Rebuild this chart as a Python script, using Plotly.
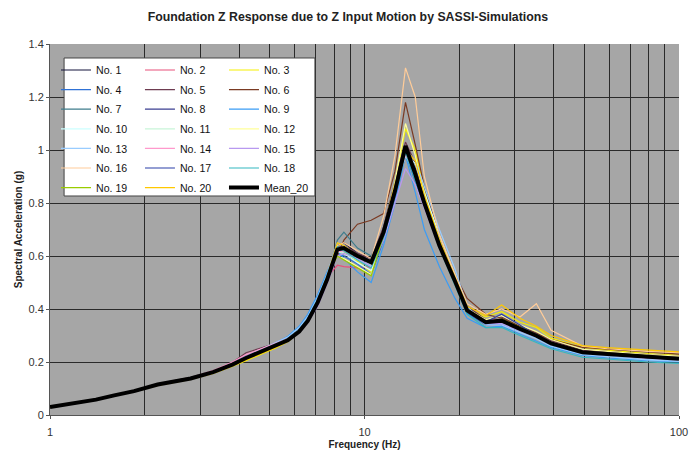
import plotly.graph_objects as go

# Analysis frequencies (Hz)
freq = [1.0, 1.2, 1.4, 1.6, 1.85, 2.2, 2.8, 3.3, 3.8, 4.2, 4.7, 5.2, 5.7, 6.2, 6.6,
        7.1, 7.6, 8.2, 8.6, 9.5, 10.5, 11.5, 12.5, 13.5, 14.5, 15.5, 17.3, 19.4,
        21.2, 24.3, 27.3, 31.2, 35.2, 39.2, 49.3, 59.2, 79.3, 100.0]

# Spectral acceleration (g) of each SASSI simulation
no_1 = [0.030, 0.044, 0.058, 0.073, 0.089, 0.114, 0.137, 0.161, 0.192, 0.218, 0.242, 0.262, 0.285, 0.318, 0.360, 0.430, 0.520, 0.640, 0.650, 0.610, 0.580, 0.700, 0.860, 1.000, 0.930, 0.810, 0.650, 0.500, 0.390, 0.345, 0.360, 0.330, 0.300, 0.270, 0.235, 0.228, 0.216, 0.210]
no_2 = [0.031, 0.045, 0.059, 0.075, 0.091, 0.117, 0.140, 0.166, 0.196, 0.222, 0.246, 0.266, 0.288, 0.320, 0.362, 0.430, 0.520, 0.565, 0.560, 0.555, 0.560, 0.680, 0.850, 1.000, 0.900, 0.790, 0.630, 0.500, 0.400, 0.355, 0.362, 0.330, 0.305, 0.275, 0.242, 0.234, 0.222, 0.215]
no_3 = [0.029, 0.043, 0.057, 0.072, 0.088, 0.112, 0.134, 0.157, 0.183, 0.205, 0.230, 0.252, 0.276, 0.312, 0.355, 0.430, 0.530, 0.640, 0.620, 0.580, 0.540, 0.690, 0.880, 1.080, 1.000, 0.850, 0.660, 0.520, 0.400, 0.370, 0.390, 0.350, 0.330, 0.290, 0.255, 0.245, 0.232, 0.225]
no_4 = [0.030, 0.044, 0.058, 0.074, 0.091, 0.116, 0.140, 0.165, 0.195, 0.222, 0.248, 0.270, 0.295, 0.330, 0.372, 0.445, 0.530, 0.610, 0.600, 0.570, 0.530, 0.660, 0.820, 0.990, 0.880, 0.790, 0.640, 0.500, 0.385, 0.340, 0.345, 0.318, 0.292, 0.262, 0.230, 0.222, 0.210, 0.205]
no_5 = [0.031, 0.045, 0.060, 0.076, 0.092, 0.118, 0.142, 0.167, 0.198, 0.235, 0.252, 0.270, 0.290, 0.322, 0.360, 0.428, 0.515, 0.630, 0.640, 0.610, 0.590, 0.710, 0.880, 1.030, 0.950, 0.820, 0.640, 0.510, 0.410, 0.360, 0.370, 0.335, 0.305, 0.280, 0.245, 0.240, 0.228, 0.222]
no_6 = [0.030, 0.044, 0.058, 0.074, 0.090, 0.115, 0.138, 0.162, 0.190, 0.216, 0.240, 0.262, 0.284, 0.316, 0.355, 0.425, 0.505, 0.600, 0.660, 0.720, 0.735, 0.760, 0.920, 1.180, 1.020, 0.860, 0.680, 0.530, 0.440, 0.380, 0.365, 0.335, 0.310, 0.285, 0.255, 0.248, 0.238, 0.230]
no_7 = [0.030, 0.044, 0.058, 0.074, 0.090, 0.115, 0.139, 0.163, 0.191, 0.214, 0.238, 0.258, 0.280, 0.313, 0.352, 0.420, 0.515, 0.660, 0.690, 0.630, 0.600, 0.690, 0.840, 1.000, 0.900, 0.790, 0.640, 0.500, 0.390, 0.345, 0.350, 0.322, 0.296, 0.268, 0.236, 0.228, 0.216, 0.210]
no_8 = [0.030, 0.043, 0.057, 0.073, 0.089, 0.114, 0.137, 0.161, 0.189, 0.214, 0.239, 0.260, 0.283, 0.318, 0.360, 0.432, 0.520, 0.635, 0.630, 0.600, 0.570, 0.680, 0.850, 0.990, 0.920, 0.810, 0.650, 0.510, 0.400, 0.350, 0.340, 0.330, 0.305, 0.272, 0.238, 0.230, 0.218, 0.212]
no_9 = [0.029, 0.043, 0.057, 0.073, 0.089, 0.115, 0.139, 0.164, 0.194, 0.220, 0.246, 0.270, 0.296, 0.335, 0.380, 0.455, 0.540, 0.620, 0.590, 0.540, 0.500, 0.640, 0.800, 0.980, 0.840, 0.700, 0.560, 0.440, 0.365, 0.330, 0.335, 0.305, 0.280, 0.255, 0.225, 0.215, 0.205, 0.200]
no_10 = [0.030, 0.044, 0.058, 0.074, 0.090, 0.116, 0.139, 0.163, 0.191, 0.216, 0.241, 0.262, 0.285, 0.320, 0.362, 0.435, 0.520, 0.630, 0.610, 0.575, 0.545, 0.680, 0.860, 0.980, 0.950, 0.840, 0.680, 0.530, 0.400, 0.345, 0.345, 0.318, 0.292, 0.265, 0.232, 0.225, 0.212, 0.206]
no_11 = [0.030, 0.044, 0.058, 0.073, 0.089, 0.113, 0.136, 0.160, 0.188, 0.212, 0.237, 0.258, 0.280, 0.312, 0.352, 0.420, 0.505, 0.615, 0.610, 0.585, 0.560, 0.690, 0.850, 0.980, 0.910, 0.800, 0.640, 0.505, 0.395, 0.350, 0.352, 0.322, 0.296, 0.268, 0.236, 0.228, 0.216, 0.210]
no_12 = [0.029, 0.043, 0.057, 0.072, 0.088, 0.113, 0.136, 0.159, 0.186, 0.210, 0.234, 0.255, 0.278, 0.312, 0.355, 0.428, 0.515, 0.600, 0.590, 0.560, 0.530, 0.690, 0.880, 1.100, 0.980, 0.820, 0.650, 0.510, 0.400, 0.360, 0.375, 0.340, 0.315, 0.285, 0.248, 0.240, 0.228, 0.222]
no_13 = [0.030, 0.044, 0.058, 0.074, 0.091, 0.117, 0.141, 0.166, 0.196, 0.222, 0.248, 0.270, 0.294, 0.330, 0.372, 0.445, 0.530, 0.650, 0.640, 0.600, 0.565, 0.690, 0.850, 1.000, 0.960, 0.860, 0.700, 0.550, 0.410, 0.340, 0.340, 0.312, 0.288, 0.260, 0.228, 0.220, 0.208, 0.202]
no_14 = [0.031, 0.045, 0.059, 0.075, 0.091, 0.116, 0.140, 0.168, 0.200, 0.228, 0.250, 0.268, 0.288, 0.320, 0.358, 0.425, 0.508, 0.615, 0.620, 0.595, 0.575, 0.700, 0.860, 0.980, 0.920, 0.800, 0.630, 0.495, 0.390, 0.348, 0.355, 0.325, 0.300, 0.272, 0.240, 0.232, 0.220, 0.214]
no_15 = [0.030, 0.044, 0.058, 0.074, 0.090, 0.115, 0.138, 0.162, 0.190, 0.214, 0.238, 0.258, 0.280, 0.310, 0.348, 0.410, 0.495, 0.600, 0.610, 0.590, 0.560, 0.660, 0.800, 0.930, 0.870, 0.780, 0.630, 0.500, 0.395, 0.345, 0.345, 0.318, 0.294, 0.266, 0.234, 0.226, 0.214, 0.208]
no_16 = [0.029, 0.043, 0.057, 0.072, 0.088, 0.112, 0.135, 0.158, 0.186, 0.210, 0.234, 0.256, 0.278, 0.312, 0.352, 0.425, 0.515, 0.640, 0.650, 0.620, 0.590, 0.750, 0.980, 1.310, 1.200, 0.900, 0.680, 0.530, 0.420, 0.380, 0.400, 0.370, 0.420, 0.320, 0.260, 0.250, 0.240, 0.235]
no_17 = [0.030, 0.044, 0.058, 0.074, 0.090, 0.115, 0.138, 0.162, 0.190, 0.215, 0.240, 0.261, 0.283, 0.316, 0.357, 0.428, 0.512, 0.620, 0.625, 0.600, 0.575, 0.690, 0.845, 1.010, 0.905, 0.795, 0.635, 0.500, 0.395, 0.352, 0.380, 0.340, 0.300, 0.270, 0.236, 0.228, 0.216, 0.210]
no_18 = [0.030, 0.044, 0.058, 0.074, 0.090, 0.116, 0.139, 0.164, 0.193, 0.219, 0.244, 0.265, 0.288, 0.322, 0.364, 0.438, 0.525, 0.635, 0.620, 0.585, 0.555, 0.670, 0.830, 0.990, 0.890, 0.790, 0.630, 0.490, 0.380, 0.330, 0.330, 0.300, 0.275, 0.250, 0.218, 0.210, 0.200, 0.195]
no_19 = [0.030, 0.044, 0.058, 0.073, 0.089, 0.114, 0.137, 0.160, 0.187, 0.211, 0.235, 0.256, 0.279, 0.314, 0.356, 0.430, 0.518, 0.600, 0.585, 0.555, 0.525, 0.680, 0.850, 1.010, 0.920, 0.810, 0.650, 0.515, 0.400, 0.352, 0.362, 0.330, 0.303, 0.273, 0.240, 0.232, 0.220, 0.214]
no_20 = [0.029, 0.043, 0.057, 0.072, 0.088, 0.112, 0.135, 0.158, 0.185, 0.208, 0.232, 0.254, 0.277, 0.312, 0.355, 0.432, 0.522, 0.650, 0.640, 0.600, 0.570, 0.700, 0.870, 1.000, 0.960, 0.830, 0.660, 0.520, 0.410, 0.375, 0.415, 0.365, 0.335, 0.300, 0.262, 0.254, 0.244, 0.238]

# Mean of the 20 simulations
mean_20 = [0.030, 0.044, 0.058, 0.074, 0.090, 0.115, 0.138, 0.162, 0.190, 0.215, 0.240, 0.260, 0.282, 0.315, 0.355, 0.425, 0.510, 0.625, 0.630, 0.600, 0.576, 0.690, 0.845, 1.015, 0.910, 0.800, 0.640, 0.505, 0.395, 0.350, 0.356, 0.325, 0.299, 0.270, 0.237, 0.230, 0.218, 0.212]

series_names = ["No. %d" % i for i in range(1, 21)]
series_values = [no_1, no_2, no_3, no_4, no_5, no_6, no_7, no_8, no_9, no_10,
                 no_11, no_12, no_13, no_14, no_15, no_16, no_17, no_18, no_19, no_20]
series_colors = ["#14143c", "#e8507a", "#f5f000", "#2f72d6", "#6e3b50", "#7a3a22",
                 "#3f7c8c", "#3b3f92", "#3a9cf5", "#ccffff", "#c8f5d8", "#ffff99",
                 "#99ccff", "#ff99cc", "#b899f0", "#ffcc99", "#2a3ea8", "#33b8c0",
                 "#99cc00", "#ffc800"]

FONT = "Liberation Sans, Arial, sans-serif"

fig = go.Figure()
legend_ids = ["legend", "legend2", "legend3"]
for i, (name, vals, col) in enumerate(zip(series_names, series_values, series_colors)):
    fig.add_trace(go.Scatter(x=freq, y=vals, mode="lines", name=name,
                             line=dict(color=col, width=1.2),
                             legend=legend_ids[i % 3], legendgroup=name))
fig.add_trace(go.Scatter(x=freq, y=mean_20, mode="lines", name="Mean_20",
                         line=dict(color="#000000", width=4),
                         legend="legend3", legendgroup="Mean_20"))

# Three legend columns, each entry in its own group so the row pitch can be tuned
legend_common = dict(bgcolor="rgba(0,0,0,0)", borderwidth=0, yanchor="top",
                     xanchor="left", y=0.969,
                     font=dict(family=FONT, size=10.6, color="#111111"),
                     tracegroupgap=0.6)

fig.update_layout(
    width=689, height=450,
    margin=dict(l=50, r=10, t=44, b=35),
    paper_bgcolor="#ffffff",
    plot_bgcolor="#a6a6a6",
    font=dict(family=FONT, size=11, color="#333333"),
    title=dict(text="<b>Foundation Z Response due to Z Input Motion by SASSI-Simulations</b>",
               x=0.505, xref="container", xanchor="center",
               y=0.962, yref="container", yanchor="middle",
               font=dict(family=FONT, size=12.3, color="#222222")),
    legend=dict(x=0.0095, **legend_common),
    legend2=dict(x=0.1430, **legend_common),
    legend3=dict(x=0.2766, **legend_common),
    xaxis=dict(type="log", range=[0, 2], dtick=1, automargin=False,
               ticklabeloverflow="allow",
               showgrid=True, gridcolor="#2a2a2a", gridwidth=1,
               minor=dict(dtick="D1", showgrid=True, gridcolor="#2a2a2a", gridwidth=1, ticks=""),
               showline=True, linecolor="#555555", linewidth=1,
               ticks="outside", ticklen=3, tickcolor="#555555",
               ticklabelstandoff=4,
               zeroline=False,
               tickfont=dict(family=FONT, size=11, color="#333333"),
               title=dict(text="<b>Frequency (Hz)</b>", standoff=7,
                          font=dict(family=FONT, size=10, color="#222222"))),
    yaxis=dict(range=[0, 1.4], dtick=0.2, tickformat="~g", automargin=False,
               showgrid=True, gridcolor="#2a2a2a", gridwidth=1,
               showline=True, linecolor="#555555", linewidth=1,
               ticks="outside", ticklen=3, tickcolor="#555555",
               zeroline=False,
               tickfont=dict(family=FONT, size=11, color="#333333"),
               title=dict(text="<b>Spectral Acceleration (g)</b>", standoff=4,
                          font=dict(family=FONT, size=10, color="#222222"))),
    showlegend=True,
)

# White frame behind the three legend columns
fig.add_shape(type="rect", xref="paper", yref="paper",
              x0=0.0224, x1=0.4212, y0=0.5903, y1=0.9623,
              fillcolor="#ffffff", line=dict(color="#444444", width=1), layer="above")

fig.write_html("out.html")
